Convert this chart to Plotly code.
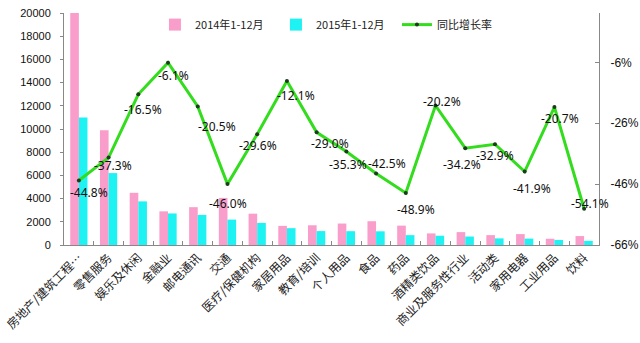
import plotly.graph_objects as go

categories = ["房地产/建筑工程…", "零售服务", "娱乐及休闲", "金融业", "邮电通讯", "交通",
              "医疗/保健机构", "家居用品", "教育/培训", "个人用品", "食品", "药品",
              "酒精类饮品", "商业及服务性行业", "活动类", "家用电器", "工业用品", "饮料"]
v2014 = [20000, 9900, 4500, 2900, 3260, 4060, 2700, 1650, 1700, 1850, 2050, 1670,
         1000, 1110, 850, 940, 540, 770]
v2015 = [11000, 6200, 3760, 2720, 2590, 2190, 1900, 1450, 1200, 1190, 1180, 850,
         800, 730, 570, 550, 430, 355]
growth = [-44.8, -37.3, -16.5, -6.1, -20.5, -46.0, -29.6, -12.1, -29.0, -35.3, -42.5,
          -48.9, -20.2, -34.2, -32.9, -41.9, -20.7, -54.1]
growth_labels = ["%.1f%%" % g for g in growth]

# label pixel offsets (style only)
label_dx = [10, 4, 5, 5, 19, 1, 1, 9, 13, 2, 11, 10, 6, -3, 0, 7, 6, 6]
label_dy = [-12, -8, -15, -13, -20, -19, -11, -15, -11, -13, 10, -17, 4, -16, -11, -17, -11, 5]

y_left_ticks = list(range(0, 20001, 2000))
y_right_ticks = [-66, -46, -26, -6]

fig = go.Figure()
fig.add_trace(go.Bar(x=categories, y=v2014, name="2014年1-12月", marker_color="#F99DCB",
                     marker_line_width=0))
fig.add_trace(go.Bar(x=categories, y=v2015, name="2015年1-12月", marker_color="#1FF2F2",
                     marker_line_width=0))
fig.add_trace(go.Scatter(x=categories, y=growth, name="同比增长率", yaxis="y2",
                         mode="lines+markers", line=dict(color="#33DD1E", width=3),
                         marker=dict(color="#1C3A1C", size=4)))

for c, g, t, dx, dy in zip(categories, growth, growth_labels, label_dx, label_dy):
    fig.add_annotation(x=c, y=g, yref="y2", text=t, showarrow=False,
                       xshift=dx, yshift=dy,
                       font=dict(family="Noto Sans", size=12, color="#111111"))

fig.update_layout(
    width=640, height=343,
    margin=dict(l=64, r=41, t=10, b=98),
    paper_bgcolor="white", plot_bgcolor="white",
    barmode="group", bargap=0.42, bargroupgap=0,
    showlegend=True,
    legend=dict(orientation="h", x=0.17, y=0.95, xanchor="left", yanchor="middle",
                font=dict(family="Noto Sans CJK SC", size=11, color="#222222"),
                bgcolor="rgba(0,0,0,0)", entrywidth=76, entrywidthmode="pixels",
                traceorder="normal"),
    xaxis=dict(type="category", range=[-0.5, len(categories) - 0.5], autorange=False,
               tickangle=-45, showline=True, linecolor="#888888",
               linewidth=1, ticks="inside", tickson="boundaries", ticklen=4,
               tickcolor="#888888", showgrid=False, automargin=False,
               tickfont=dict(family="Noto Sans CJK SC", size=12, color="#222222")),
    yaxis=dict(range=[0, 20000], autorange=False, tickvals=y_left_ticks,
               ticktext=[str(v) for v in y_left_ticks], showline=True,
               linecolor="#888888", ticks="outside", ticklen=3, tickcolor="#888888",
               showgrid=False, zeroline=False, automargin=False, ticklabelstandoff=7,
               tickfont=dict(family="Liberation Sans", size=11, color="#111111")),
    yaxis2=dict(range=[-66, 10.2], autorange=False, overlaying="y", side="right",
                tickvals=y_right_ticks,
                ticktext=["%d%%" % v for v in y_right_ticks], showline=True,
                linecolor="#888888", ticks="inside", ticklen=4, tickcolor="#888888",
                showgrid=False, zeroline=False, automargin=False, ticklabelstandoff=8,
                tickfont=dict(family="Liberation Sans", size=12, color="#111111")),
)

fig.write_html("out.html")
